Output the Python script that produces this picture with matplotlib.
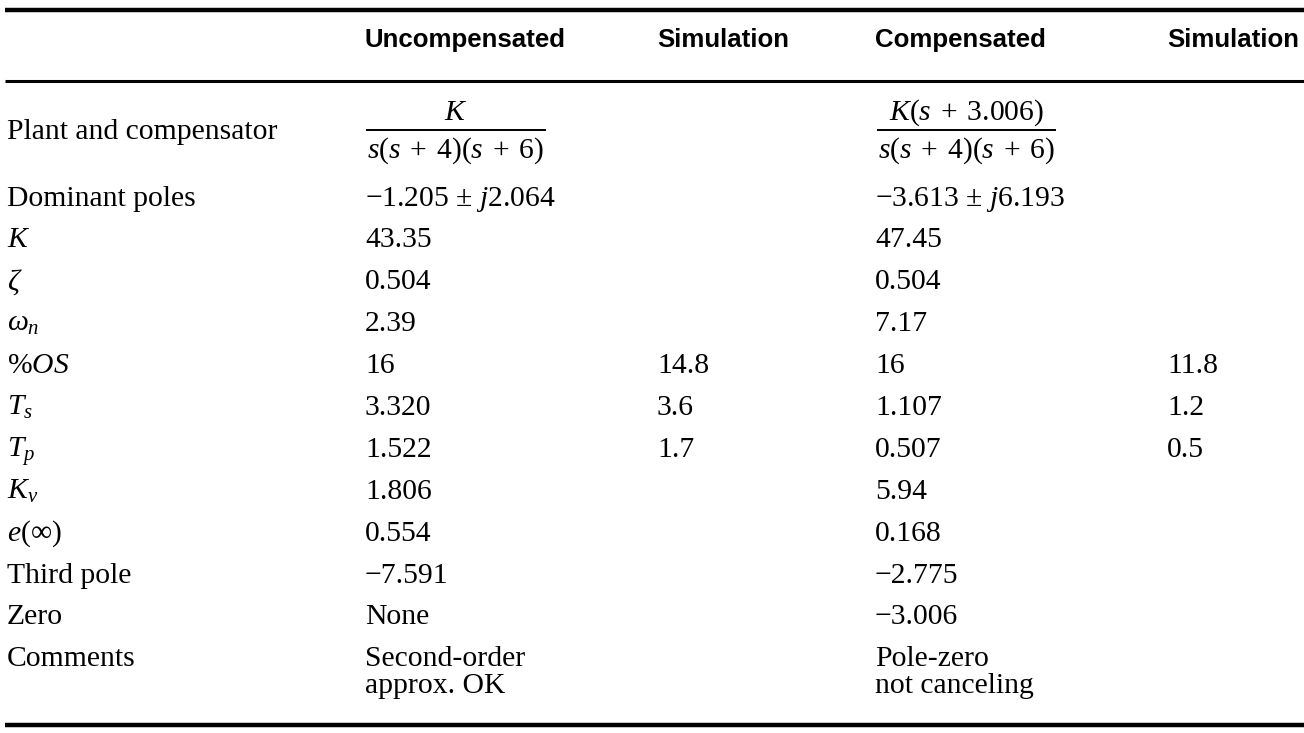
import matplotlib
matplotlib.use("Agg")
import matplotlib.pyplot as plt
from matplotlib import font_manager

plt.rcParams['mathtext.fontset'] = 'custom'
plt.rcParams['mathtext.rm'] = 'Liberation Serif'
plt.rcParams['mathtext.it'] = 'Liberation Serif:italic'
plt.rcParams['mathtext.bf'] = 'Liberation Serif:bold'

names = sorted({f.name for f in font_manager.fontManager.ttflist})
narrow = 'Liberation Sans Narrow' if 'Liberation Sans Narrow' in names else 'Liberation Sans'

HS = "\u200a"   # hair space

headers = ["Uncompensated", "Simulation", "Compensated", "Simulation"]
row_labels = ["Plant and compensator", "Dominant poles", "$K$", r"$\zeta$", r"$\omega_n$",
              "%$OS$", "$T_s$", "$T_p$", "$K_v$", r"$e(\infty)$", "Third pole", "Zero", "Comments"]
uncomp = [None, "−1.205 ± $j$2.064", "43.35", "0.504", "2.39", "16", "3.320", "1.522",
          "1.806", "0.554", "−7.591", "None", "Second-order\napprox. OK"]
sim_uncomp = ["", "", "", "", "", "14.8", "3.6", "1.7", "", "", "", "", ""]
comp = [None, "−3.613 ± $j$6.193", "47.45", "0.504", "7.17", "16", "1.107", "0.507",
        "5.94", "0.168", "−2.775", "−3.006", "Pole-zero\nnot canceling"]
sim_comp = ["", "", "", "", "", "11.8", "1.2", "0.5", "", "", "", "", ""]
frac_uncomp = ("$K$", "$s$($s$ " + HS + "+ " + HS + "4)($s$ " + HS + "+ " + HS + "6)")
frac_comp = ("$K$($s$ " + HS + "+ " + HS + "3.006)",
             "$s$($s$ " + HS + "+ " + HS + "4)($s$ " + HS + "+ " + HS + "6)")

W, H = 1304, 733
fig = plt.figure(figsize=(W / 100, H / 100), dpi=100)
ax = fig.add_axes([0, 0, 1, 1])
ax.set_xlim(0, W)
ax.set_ylim(H, 0)
ax.axis('off')

serif = ['Liberation Serif', 'DejaVu Serif', 'DejaVu Sans']
fs = 21.3
col_x = [7, 365, 657, 875, 1167]

# rules
ax.plot([5, W], [10, 10], color='black', lw=3.2, solid_capstyle='butt')
ax.plot([5, W], [81, 81], color='black', lw=2.2, solid_capstyle='butt')
ax.plot([5, W], [725, 725], color='black', lw=3.2, solid_capstyle='butt')

for x, h in zip(col_x[1:], headers):
    ax.text(x, 47, h, family=narrow, weight='bold', fontsize=18.6, va='baseline', ha='left')

row_base = [139] + [205.5 + 41.9 * k for k in range(len(row_labels) - 1)]
line_gap = 26.5

for i, yb in enumerate(row_base):
    ax.text(col_x[0], yb, row_labels[i], family=serif, fontsize=fs, va='baseline', ha='left')
    for x, col in zip(col_x[1:], [uncomp, sim_uncomp, comp, sim_comp]):
        v = col[i]
        if not v:
            continue
        for k, line in enumerate(v.split('\n')):
            ax.text(x, yb + k * line_gap, line, family=serif, fontsize=fs,
                    va='baseline', ha='left')

# fractions
for (num, den), (x0, x1) in [(frac_uncomp, (366, 546)), (frac_comp, (877, 1056))]:
    cx = (x0 + x1) / 2
    ax.plot([x0, x1], [130, 130], color='black', lw=1.4, solid_capstyle='butt')
    ax.text(cx, 120, num, family=serif, fontsize=fs, ha='center', va='baseline')
    ax.text(cx, 158, den, family=serif, fontsize=fs, ha='center', va='baseline')

fig.savefig('out.png', dpi=100)
